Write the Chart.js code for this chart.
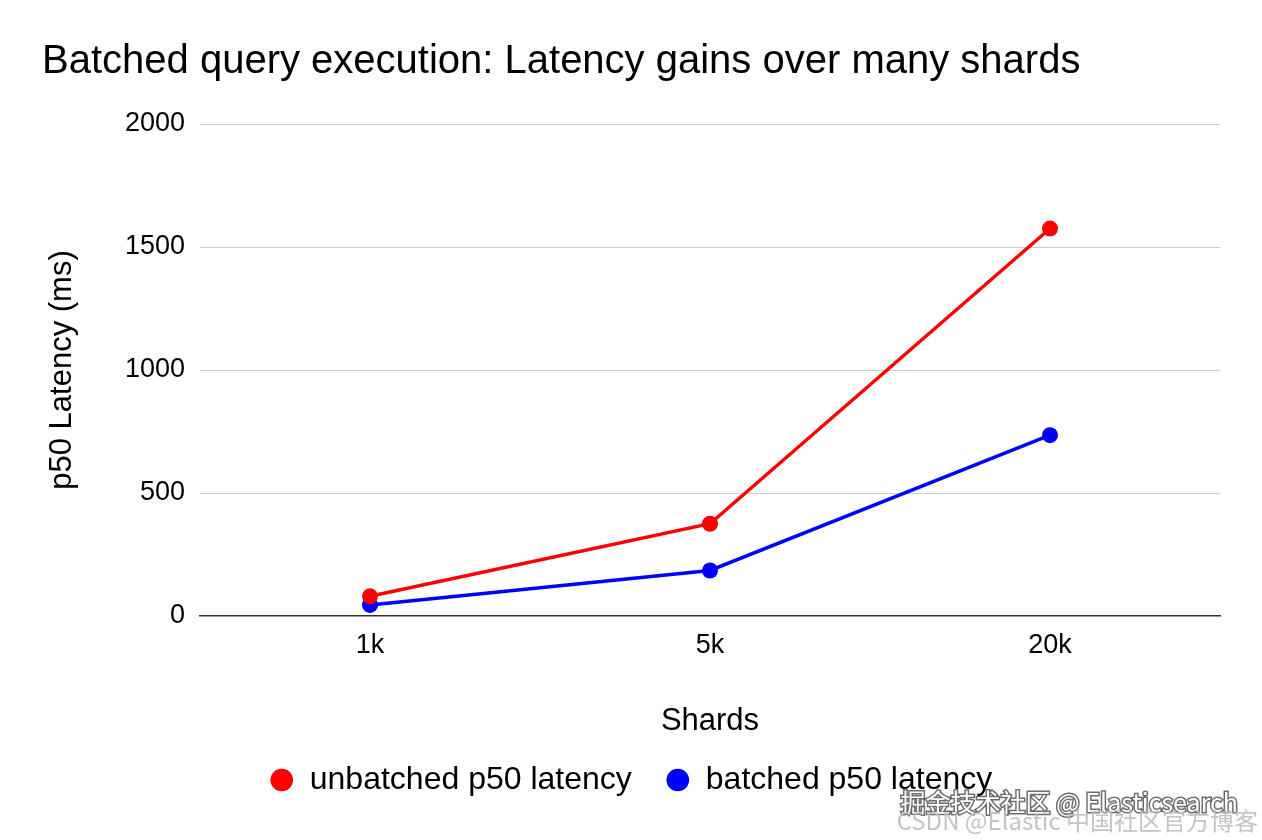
<!DOCTYPE html>
<html>
<head>
<meta charset="utf-8">
<script src="https://cdn.jsdelivr.net/npm/chart.js@4.4.1/dist/chart.umd.min.js"></script>
<style>
  html, body { margin: 0; padding: 0; background: #fff; }
  #wrap { width: 1262px; height: 840px; }
</style>
</head>
<body>
<div id="wrap"><canvas id="chart" width="1262" height="840"></canvas></div>
<script>
// shard counts on the x axis
const shards = ['1k', '5k', '20k'];
// p50 latency in ms
const unbatchedLatency = [80, 375, 1575];
const batchedLatency = [45, 185, 735];
const yTickValues = [0, 500, 1000, 1500, 2000];

const FONT = "'Liberation Sans', Arial, Helvetica, sans-serif";

// watermark text drawn over the lower right corner
const watermark = {
  id: 'watermark',
  afterDraw(chart) {
    const ctx = chart.ctx;
    ctx.save();
    ctx.textAlign = 'right';
    ctx.textBaseline = 'middle';
    ctx.font = "25px 'Noto Sans CJK SC', sans-serif";
    ctx.lineWidth = 3;
    ctx.strokeStyle = 'rgba(60,60,60,0.75)';
    ctx.strokeText('掘金技术社区 @ Elasticsearch', 1238, 802);
    ctx.fillStyle = '#ffffff';
    ctx.fillText('掘金技术社区 @ Elasticsearch', 1238, 802);
    ctx.font = "24px 'Noto Sans CJK SC', sans-serif";
    ctx.fillStyle = 'rgba(190,190,190,0.9)';
    ctx.fillText('CSDN @Elastic 中国社区官方博客', 1258, 821);
    ctx.restore();
  }
};

new Chart(document.getElementById('chart'), {
  type: 'line',
  data: {
    labels: shards,
    datasets: [
      {
        label: 'unbatched p50 latency',
        data: unbatchedLatency,
        borderColor: '#ff0000',
        backgroundColor: '#ff0000',
        borderWidth: 3.5,
        pointRadius: 8,
        pointBorderWidth: 0,
        pointBackgroundColor: '#ff0000',
        tension: 0
      },
      {
        label: 'batched p50 latency',
        data: batchedLatency,
        borderColor: '#0000ff',
        backgroundColor: '#0000ff',
        borderWidth: 3.5,
        pointRadius: 8,
        pointBorderWidth: 0,
        pointBackgroundColor: '#0000ff',
        tension: 0
      }
    ]
  },
  options: {
    responsive: false,
    animation: false,
    devicePixelRatio: 1,
    layout: { padding: { left: 42, right: 42, top: 0, bottom: 34 } },
    plugins: {
      title: {
        display: true,
        text: 'Batched query execution: Latency gains over many shards',
        align: 'start',
        color: '#000',
        font: { family: FONT, size: 40, weight: 'normal' },
        padding: { top: 38, bottom: 38 }
      },
      legend: {
        position: 'bottom',
        labels: {
          usePointStyle: true,
          pointStyle: 'circle',
          boxWidth: 24,
          boxHeight: 16,
          padding: 34,
          color: '#000',
          font: { family: FONT, size: 32 }
        }
      },
      tooltip: { enabled: false }
    },
    scales: {
      x: {
        offset: true,
        grid: { display: false, drawTicks: false },
        border: { display: true, color: '#333', width: 1.5 },
        ticks: {
          color: '#000',
          padding: 13,
          font: { family: FONT, size: 27 }
        },
        title: {
          display: true,
          text: 'Shards',
          color: '#000',
          font: { family: FONT, size: 31 },
          padding: { top: 0, bottom: -10 }
        },
        afterFit(scale) { scale.height = 114; }
      },
      y: {
        min: 0,
        max: 2000,
        afterBuildTicks(scale) {
          scale.ticks = yTickValues.map(v => ({ value: v }));
        },
        grid: {
          drawTicks: false,
          lineWidth: 1,
          color: ctx => (ctx.tick && ctx.tick.value === 0) ? 'rgba(0,0,0,0)' : '#cccccc'
        },
        border: { display: false },
        ticks: {
          color: '#000',
          padding: 15,
          font: { family: FONT, size: 27 },
          callback: v => String(v)
        },
        title: {
          display: true,
          text: 'p50 Latency (ms)',
          color: '#000',
          font: { family: FONT, size: 31 },
          padding: { top: 1.4, bottom: 0 }
        },
        afterFit(scale) { scale.width = 158; }
      }
    }
  },
  plugins: [watermark]
});
</script>
</body>
</html>
